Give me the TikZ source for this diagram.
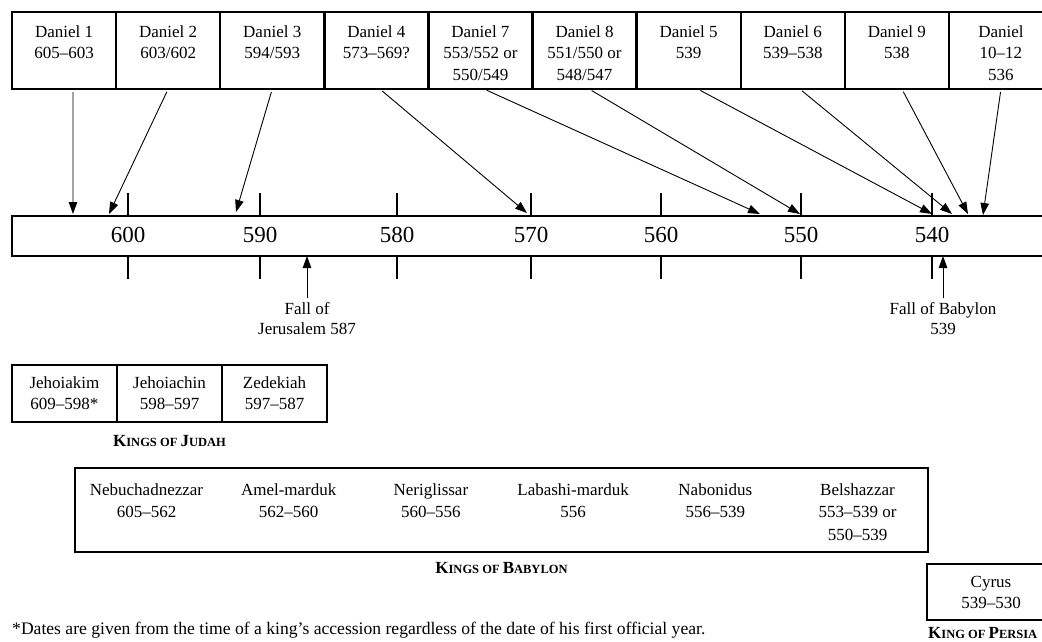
\documentclass[tikz,border=0pt]{standalone}
\usepackage{fontspec}
\setmainfont{Liberation Serif}
\usetikzlibrary{arrows.meta, positioning}

\newcommand{\scword}[2]{{\fontsize{17}{20}\selectfont #1}{\fontsize{12.5}{15}\selectfont #2}}

\begin{document}
\begin{tikzpicture}[
      x=1pt, y=-1pt,
      node distance = 0pt,
      dan/.style   = {draw, line width=2.4pt, outer sep=0pt, inner sep=0pt,
                      minimum width=104.1pt, minimum height=77pt},
      dtxt/.style  = {anchor=north, align=center, inner sep=0pt,
                      font=\fontsize{17}{21.5}\selectfont, label distance=-13pt},
      yr/.style    = {inner sep=0pt, font=\fontsize{23}{26}\selectfont},
      tick/.style  = {line width=1.8pt},
      arr/.style   = {-{Triangle[length=12pt,width=8.5pt]}, line width=0.9pt, shorten <=3pt},
      fall/.style  = {anchor=north, align=center, inner sep=0pt,
                      font=\fontsize{17}{20.5}\selectfont},
      jud/.style   = {draw, line width=1.4pt, outer sep=0pt, inner sep=0pt,
                      minimum width=105pt, minimum height=57pt, align=center,
                      font=\fontsize{17}{21}\selectfont},
      king/.style  = {anchor=north, align=center, inner sep=0pt,
                      font=\fontsize{17}{22.5}\selectfont},
      ttl/.style   = {inner sep=0pt, font=\bfseries},
    ]
    \useasboundingbox (0,0) rectangle (1042,641);
    \clip (0,0) rectangle (1042,641);

    \node[dan, anchor=north west, label={[dtxt]north:{Daniel 1\\605–603}}] (d1) at (12,12) {};
    \node[dan, right=of d1,  label={[dtxt]north:{Daniel 2\\603/602}}]           (d2)  {};
    \node[dan, right=of d2,  label={[dtxt]north:{Daniel 3\\594/593}}]           (d3)  {};
    \node[dan, right=of d3,  label={[dtxt]north:{Daniel 4\\573–569?}}]          (d4)  {};
    \node[dan, right=of d4,  label={[dtxt]north:{Daniel 7\\553/552 or\\550/549}}] (d7) {};
    \node[dan, right=of d7,  label={[dtxt]north:{Daniel 8\\551/550 or\\548/547}}] (d8) {};
    \node[dan, right=of d8,  label={[dtxt]north:{Daniel 5\\539}}]               (d5)  {};
    \node[dan, right=of d5,  label={[dtxt]north:{Daniel 6\\539–538}}]           (d6)  {};
    \node[dan, right=of d6,  label={[dtxt]north:{Daniel 9\\538}}]               (d9)  {};
    \node[dan, right=of d9,  label={[dtxt]north:{Daniel\\10–12\\536}}]          (d10) {};

    \node[draw, line width=1.3pt, outer sep=0pt, minimum width=1060pt, minimum height=40pt,
          anchor=north west] (tl) at (12,216) {};

    \draw[tick] (128,193) -- (128,216) (128,256) -- (128,279);
    \draw[tick] (260,193) -- (260,216) (260,256) -- (260,279);
    \draw[tick] (397,193) -- (397,216) (397,256) -- (397,279);
    \draw[tick] (531,193) -- (531,216) (531,256) -- (531,279);
    \draw[tick] (661,193) -- (661,216) (661,256) -- (661,279);
    \draw[tick] (801,193) -- (801,216) (801,256) -- (801,279);
    \draw[tick] (932,193) -- (932,216) (932,256) -- (932,279);

    \node[yr] (y600) at (128,235) {600};
    \node[yr] (y590) at (260,235) {590};
    \node[yr] (y580) at (397,235) {580};
    \node[yr] (y570) at (531,235) {570};
    \node[yr] (y560) at (661,235) {560};
    \node[yr] (y550) at (801,235) {550};
    \node[yr] (y540) at (932,235) {540};

    \coordinate (t1)  at (73,214);
    \coordinate (t2)  at (109,214);
    \coordinate (t3)  at (236,212);
    \coordinate (t4)  at (527,213);
    \coordinate (t7)  at (760,214);
    \coordinate (t8)  at (800,214);
    \coordinate (t5)  at (932,214);
    \coordinate (t6)  at (952,214);
    \coordinate (t9)  at (968,214);
    \coordinate (t10) at (983,215);

    \draw[arr] ([xshift=9pt]d1.south)   -- (t1);
    \draw[arr] (d2.south)               -- (t2);
    \draw[arr] (d3.south)               -- (t3);
    \draw[arr] ([xshift=3.5pt]d4.south) -- (t4);
    \draw[arr] ([xshift=3.5pt]d7.south) -- (t7);
    \draw[arr] ([xshift=4.5pt]d8.south) -- (t8);
    \draw[arr] ([xshift=9pt]d5.south)   -- (t5);
    \draw[arr] ([xshift=7pt]d6.south)   -- (t6);
    \draw[arr] ([xshift=5pt]d9.south)   -- (t9);
    \draw[arr] (d10.south)              -- (t10);

    \node[fall] (jer)  at (307,302) {Fall of\\Jerusalem 587};
    \node[fall] (bfal) at (943,302) {Fall of Babylon\\539};
    \draw[arr, shorten <=4pt] (jer.north)  -- (jer.north |- tl.south);
    \draw[arr, shorten <=4pt] (bfal.north) -- (bfal.north |- tl.south);

    \node[jud, anchor=north west] (jk) at (12,365) {Jehoiakim\\609–598*};
    \node[jud, right=of jk] (jc) {Jehoiachin\\598–597};
    \node[jud, right=of jc] (zd) {Zedekiah\\597–587};
    \node[ttl, below=13pt of jc] (judt) {\scword{K}{INGS OF }\scword{J}{UDAH}};

    \node[draw, line width=2.5pt, outer sep=0pt, minimum width=853pt, minimum height=84pt,
          anchor=north west] (bab) at (75,468) {};
    \node[king] (neb) at (146.5,483) {Nebuchadnezzar\\605–562};
    \node[king] (ame) at (288.7,483) {Amel-marduk\\562–560};
    \node[king] (ner) at (430.9,483) {Neriglissar\\560–556};
    \node[king] (lab) at (573.1,483) {Labashi-marduk\\556};
    \node[king] (nab) at (715.3,483) {Nabonidus\\556–539};
    \node[king] (bel) at (857.5,483) {Belshazzar\\553–539 or\\550–539};
    \node[ttl, below=10pt of bab] (babt) {\scword{K}{INGS OF }\scword{B}{ABYLON}};

    \node[draw, line width=2.3pt, outer sep=0pt, minimum width=128pt, minimum height=56pt,
          anchor=north west, align=center, font=\fontsize{17}{21}\selectfont] (cy) at (927,564)
          {Cyrus\\539–530};
    \node[ttl, anchor=base west] (pert) at (928,638.5) {\scword{K}{ING OF }\scword{P}{ERSIA}};

    \node[anchor=base west, inner sep=0pt, font=\fontsize{17.6}{20}\selectfont] (note) at (12,634)
          {*Dates are given from the time of a king’s accession regardless of the date of his first official year.};
  \end{tikzpicture}
\end{document}
